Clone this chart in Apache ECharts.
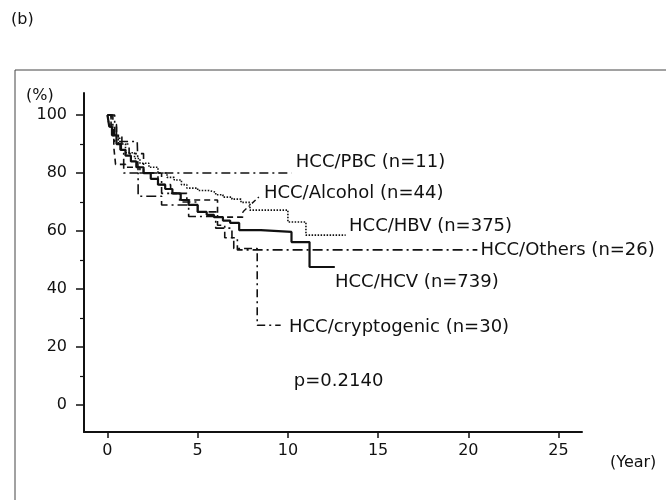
<!DOCTYPE html>
<html>
<head>
<meta charset="utf-8">
<script src="https://cdn.jsdelivr.net/npm/echarts@6/dist/echarts.min.js"></script>
<style>html,body{margin:0;padding:0;background:#fff;}#c{width:666px;height:500px;}</style>
</head>
<body>
<div id="c"></div>
<script>
// ---- data (years, survival %) ----
var xTicks = [0, 5, 10, 15, 20, 25];
var yTicks = [0, 20, 40, 60, 80, 100];
var yMinorTicks = [10, 30, 50, 70, 90];

var seriesNames = ['HCC/PBC (n=11)', 'HCC/Alcohol (n=44)', 'HCC/HBV (n=375)', 'HCC/Others (n=26)', 'HCC/HCV (n=739)', 'HCC/cryptogenic (n=30)'];

var pbcData = [[0,100],[0.4,90.9],[1.65,90.9],[1.7,80],[10.2,80]];
var alcoholData = [[0,100],[0.2,95],[0.35,89],[0.45,83],[1,82],[1.8,80],[2.8,76],[3.5,73],[4.4,70.7],[5.2,70.7],[6.1,64.8],[7.5,64.8],[7.5,66.6]];
var hbvData = [[0,100],[0.1,96],[0.3,93],[0.6,90],[1,87],[1.5,85],[1.8,83.4],[2.3,82],[2.8,80],[3.3,78.5],[3.7,77.6],[4.1,76],[4.4,74.8],[5,74],[5.6,73.4],[6,72.5],[6.4,71.7],[6.9,71],[7.4,69.9],[7.9,67.2],[10,63.1],[11,58.6],[13.2,58.6]];
var othersData = [[0,100],[0.3,96],[0.5,92],[0.7,88],[0.9,80],[1.7,72],[3,69],[4.5,65],[6,61],[6.9,57.7],[7.2,53.5],[20.5,53.5]];
var hcvData = [[0,100],[0.1,96],[0.25,93],[0.5,90],[0.75,88],[1,86],[1.3,84],[1.6,82],[2,80],[2.4,78],[2.8,76],[3.2,74.5],[3.6,73],[4.06,70.7],[4.5,69],[5,66.6],[5.5,65.6],[5.9,64.8],[6.4,63.6],[6.8,62.8],[7.3,60.3],[8.5,59.7],[10.2,56.2],[11.2,47.6],[12.6,47.6]];
var cryptogenicData = [[0,100],[0.2,96.7],[0.5,93],[0.8,90],[1.2,86.7],[2,80],[3,73],[4,70],[5,66.6],[6.1,62],[6.5,57.7],[7,54],[8.3,27.5],[9.6,27.5]];

var pText = 'p=0.2140';
</script>
<script>
var FONT = 'DejaVu Sans';
var INK = '#111';
var chart = echarts.init(document.getElementById('c'), null, {renderer: 'canvas'});

// label anchors (data coordinates) for each curve
var labelAnchors = [[10.44, 83.8], [8.67, 73.1], [13.39, 61.7], [20.67, 53.4], [12.61, 42.4], [10.06, 26.9]];
var pAnchor = [10.33, 8.3];
var styles = [
  {type: [9, 4, 2, 4], width: 1.6},
  {type: [6, 4], width: 1.6},
  {type: [1.5, 1.5], width: 1.6},
  {type: [10, 4, 2, 4], width: 1.6},
  {type: 'solid', width: 2.2},
  {type: [8, 4, 2, 4], width: 1.6}
];
var datas = [pbcData, alcoholData, hbvData, othersData, hcvData, cryptogenicData];

function textLabel(str) {
  return {show: true, position: 'right', distance: 0, color: INK, fontFamily: FONT, fontSize: 18, formatter: str};
}

var series = datas.map(function (d, i) {
  var pts = [{coord: labelAnchors[i], label: textLabel(seriesNames[i])}];
  if (i === 4) pts.push({coord: pAnchor, label: textLabel(pText)});
  var s = {
    name: seriesNames[i],
    type: 'line',
    step: 'end',
    symbol: 'none',
    silent: true,
    animation: false,
    data: d,
    lineStyle: {color: INK, width: styles[i].width, type: styles[i].type},
    markPoint: {
      symbol: 'circle', symbolSize: 0, animation: false, silent: true,
      label: textLabel(''),
      data: pts
    }
  };
  if (i === 1) {
    s.markLine = {
      symbol: 'none', silent: true, animation: false,
      label: {show: false},
      lineStyle: {color: INK, width: 1.4, type: [5, 3, 1.5, 3]},
      data: [[{coord: [7.5, 66.6]}, {coord: [8.5, 72.4]}]]
    };
  }
  return s;
});

chart.setOption({
  animation: false,
  backgroundColor: '#fff',
  grid: {left: 84, right: 84, top: 93, bottom: 68},
  xAxis: {
    type: 'value', min: -1.3, max: 26.3,
    splitLine: {show: false},
    axisLine: {onZero: false, lineStyle: {color: INK, width: 2}},
    axisTick: {show: true, customValues: xTicks, length: 6, lineStyle: {color: INK, width: 1.5}},
    axisLabel: {customValues: xTicks, color: INK, fontFamily: FONT, fontSize: 16, margin: 11}
  },
  yAxis: [{
    type: 'value', min: -9.3, max: 107.6,
    splitLine: {show: false},
    axisLine: {show: true, onZero: false, lineStyle: {color: INK, width: 2}},
    axisTick: {show: true, customValues: yTicks, length: 8, lineStyle: {color: INK, width: 1.5}},
    axisLabel: {customValues: yTicks, color: INK, fontFamily: FONT, fontSize: 16, margin: 17}
  }, {
    type: 'value', min: -9.3, max: 107.6, position: 'left',
    splitLine: {show: false},
    axisLine: {show: false, onZero: false},
    axisTick: {show: true, customValues: yMinorTicks, length: 4, lineStyle: {color: INK, width: 1.2}},
    axisLabel: {show: false}
  }],
  graphic: [
    {type: 'rect', shape: {x: 15, y: 70, width: 720, height: 520}, style: {fill: 'none', stroke: '#444', lineWidth: 1}, silent: true},
    {type: 'text', left: 11, top: 12, style: {text: '(b)', fill: INK, font: '16px "DejaVu Sans"'}},
    {type: 'text', left: 26, top: 88, style: {text: '(%)', fill: INK, font: '16px "DejaVu Sans"'}},
    {type: 'text', left: 610, top: 455, style: {text: '(Year)', fill: INK, font: '16px "DejaVu Sans"'}}
  ],
  series: series
});
</script>
</body>
</html>
